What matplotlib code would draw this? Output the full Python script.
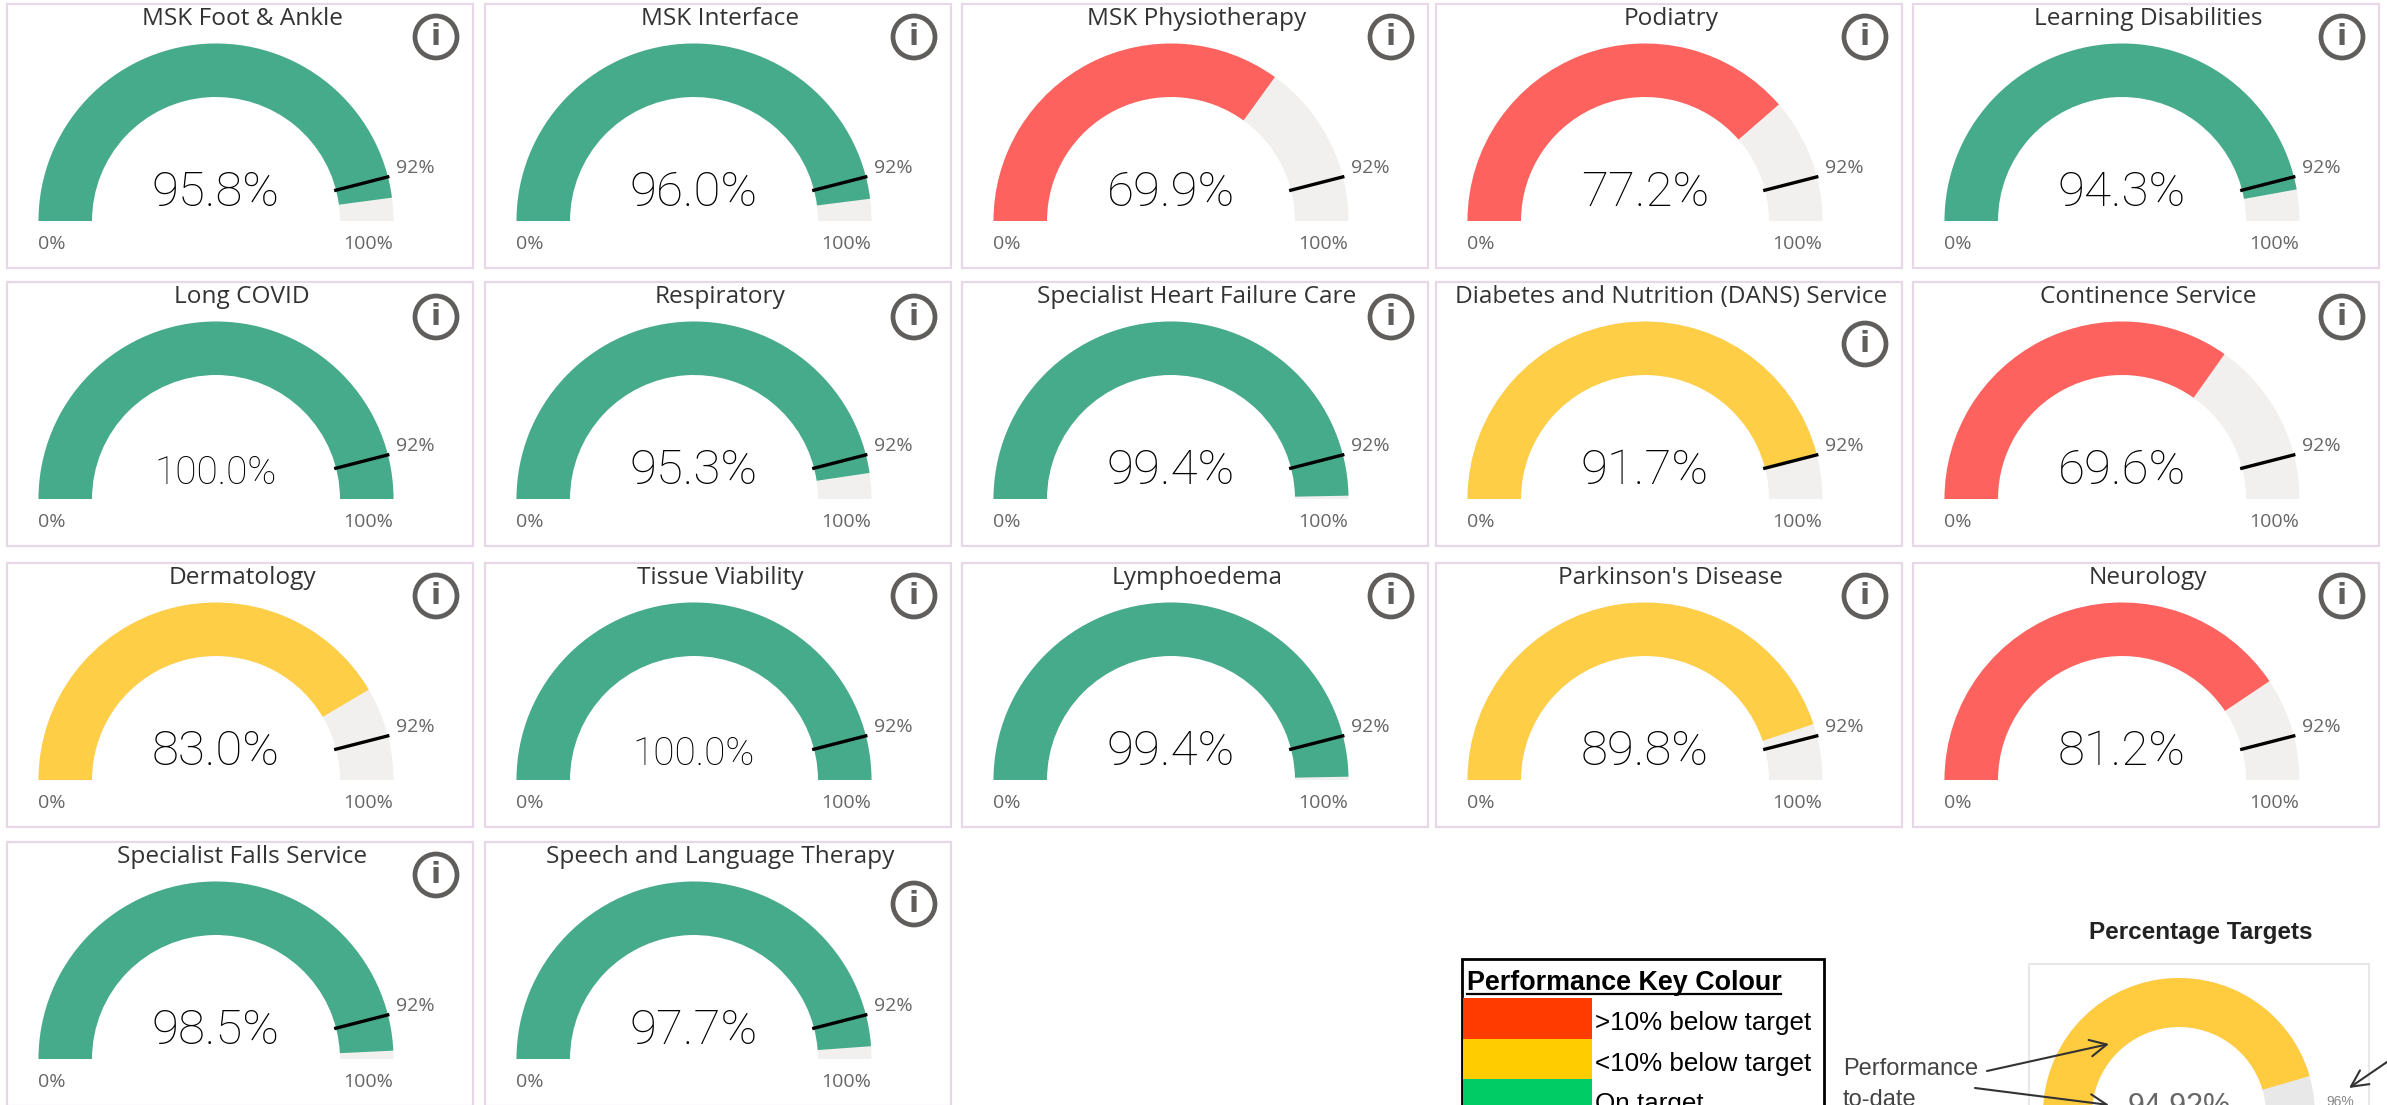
import numpy as np
import matplotlib
matplotlib.use('Agg')
import matplotlib.pyplot as plt
from matplotlib.patches import Wedge, Rectangle, Circle

names = ['MSK Foot & Ankle', 'MSK Interface', 'MSK Physiotherapy', 'Podiatry', 'Learning Disabilities',
	'Long COVID', 'Respiratory', 'Specialist Heart Failure Care', 'Diabetes and Nutrition (DANS) Service', 'Continence Service',
	'Dermatology', 'Tissue Viability', 'Lymphoedema', "Parkinson's Disease", 'Neurology',
	'Specialist Falls Service', 'Speech and Language Therapy']
values = [95.8, 96.0, 69.9, 77.2, 94.3,
	100.0, 95.3, 99.4, 91.7, 69.6,
	83.0, 100.0, 99.4, 89.8, 81.2,
	98.5, 97.7]
target = 92
key_labels = ['>10% below target', '<10% below target', 'On target']
key_colors = ['#FF3B00', '#FFCC00', '#00CC66']
example_value = 91
example_label = '94.92%'
example_target = 96

W, H = 2387, 1105
green, yellow, red, track = '#45AB8A', '#FFCE47', '#FD625E', '#F1F0EE'
col_left = [7, 485, 962, 1436, 1913]
row_top = [4, 282, 563, 842]
icon_dy = [33, 35, 33, 33]
panel_w, panel_h = 466, 264
thin = ['Roboto']
arial = ['Liberation Sans']

def gauge_color(v):
	if v >= target:
		return green
	if v >= target - 10:
		return yellow
	return red

def ang(v):
	return 180 - v * 1.8

fig = plt.figure(figsize = (W / 100, H / 100), dpi = 100)
ax = fig.add_axes([0, 0, 1, 1])
ax.set_xlim(0, W)
ax.set_ylim(0, H)
ax.axis('off')

def y(p):
	return H - p

for i, name in enumerate(names):
	x0 = col_left[i % 5]
	top = row_top[i // 5]
	ax.add_patch(Rectangle((x0, y(top + panel_h)), panel_w, panel_h, fc = 'white', ec = '#E6D8E6', lw = 1.6))
	cx = x0 + 209
	cy = y(top + 217)
	ax.add_patch(Wedge((cx, cy), 177.5, 0, 180, width = 53.5, fc = track, ec = 'none'))
	ax.add_patch(Wedge((cx, cy), 177.5, ang(values[i]), 180, width = 53.5, fc = gauge_color(values[i]), ec = 'none'))
	t = np.radians(ang(target))
	ax.plot([cx + 122 * np.cos(t), cx + 179 * np.cos(t)], [cy + 122 * np.sin(t), cy + 179 * np.sin(t)], color = 'black', lw = 2.4, solid_capstyle = 'butt')
	ax.text(cx, cy + 15, '%.1f%%' % values[i], family = thin, size = 28 if values[i] == 100 else 35.5, color = 'black', ha = 'center', va = 'baseline', fontweight = 'light')
	ax.text(x0 + 31, y(top + 240), '0%', family = 'Open Sans', size = 14, color = '#666666', ha = 'left', va = 'center')
	ax.text(x0 + 386, y(top + 240), '100%', family = 'Open Sans', size = 14, color = '#666666', ha = 'right', va = 'center')
	ax.text(x0 + 389, y(top + 164), '92%', family = 'Open Sans', size = 14, color = '#666666', ha = 'left', va = 'center')
	ax.text(x0 + 235, y(top + 15), name, family = 'Open Sans', size = 17.6, color = '#333333', ha = 'center', va = 'center')
	# info icon, a few sit lower where the title is long
	iy = top + icon_dy[i // 5]
	if name.startswith('Diabetes'):
		iy = top + 62
	if name.startswith('Speech'):
		iy = top + 62
	ix = x0 + 429
	ax.add_patch(Circle((ix, y(iy)), 21, fc = 'white', ec = '#605E5C', lw = 3.4))
	ax.text(ix, y(iy), 'i', family = 'DejaVu Sans', fontweight = 'bold', size = 21, color = '#605E5C', ha = 'center', va = 'center')

# performance key box
ax.add_patch(Rectangle((1462, -10), 362, y(959) + 10, fc = 'white', ec = 'black', lw = 2))
ax.text(1467, y(983), 'Performance Key Colour', family = arial, fontweight = 'bold', size = 19.4, color = 'black', ha = 'left', va = 'center')
ax.plot([1467, 1781], [y(994), y(994)], color = 'black', lw = 1.6)
key_h = 40.5
for i, lab in enumerate(key_labels):
	top = 998 + i * key_h
	ax.add_patch(Rectangle((1463, y(top + key_h)), 129, key_h, fc = key_colors[i], ec = 'none'))
	ax.text(1595, y(top + key_h / 2 + 5), lab, family = arial, size = 18.7, color = 'black', ha = 'left', va = 'center')

# pasted screenshot of the target explanation
ax.text(2201, y(933), 'Percentage Targets', family = arial, fontweight = 'bold', size = 17.5, color = '#222222', ha = 'center', va = 'center')
ax.add_patch(Rectangle((2029, -10), 340, y(964) + 10, fc = 'white', ec = '#E8E8E8', lw = 1.5))
ex, ey = 2179, y(1114)
ax.add_patch(Wedge((ex, ey), 136, 0, 180, width = 49, fc = '#E8E8E8', ec = 'none'))
ax.add_patch(Wedge((ex, ey), 136, ang(example_value), 180, width = 49, fc = '#FFCB3F', ec = 'none'))
ax.text(2179, y(1092), example_label, family = arial, size = 22, color = '#666666', ha = 'center', va = 'top')
ax.text(2340, y(1102), '%d%%' % example_target, family = arial, size = 10, color = '#888888', ha = 'center', va = 'center')
ax.text(1843, y(1069), 'Performance', family = arial, size = 17, color = '#444444', ha = 'left', va = 'center')
ax.text(1843, y(1100), 'to-date', family = arial, size = 17, color = '#444444', ha = 'left', va = 'center')
for start, end in [((1987, 1071), (2109, 1044)), ((1975, 1088), (2109, 1105)), ((2387, 1062), (2349, 1088))]:
	ax.annotate('', xy = (end[0], y(end[1])), xytext = (start[0], y(start[1])), arrowprops = dict(arrowstyle = '->,head_length=1.2,head_width=0.6', color = '#333333', lw = 1.5, shrinkA = 0, shrinkB = 0))

fig.savefig('out.png', dpi = 100)
